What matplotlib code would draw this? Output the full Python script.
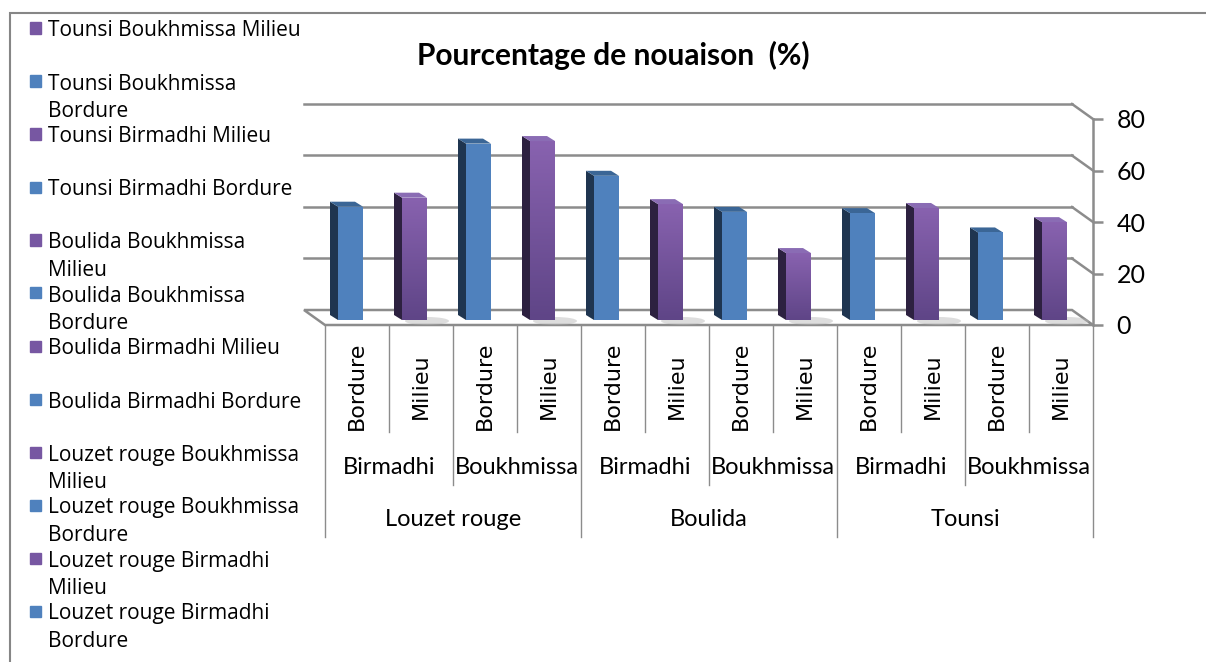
import textwrap
import numpy as np
import matplotlib
matplotlib.use("Agg")
import matplotlib.pyplot as plt
from matplotlib.patches import Polygon, Rectangle, Ellipse
from matplotlib.colors import LinearSegmentedColormap
from matplotlib import transforms

# data
varieties = ['Louzet rouge', 'Boulida', 'Tounsi']
sites = ['Birmadhi', 'Boukhmissa']
positions = ['Bordure', 'Milieu']
values = [44, 47.5, 68.5, 69.5, 56, 45, 42, 26, 41.5, 43.5, 34, 38]
yticks = [0, 20, 40, 60, 80]
title = 'Pourcentage de nouaison  (%)'

face = {'Bordure': '#4F81BD', 'Milieu': '#7757A2'}
side = {'Bordure': '#1F3550', 'Milieu': '#2D2140'}
top = {'Bordure': '#3B6696', 'Milieu': '#8A6CB4'}
grid_c = '#8c8c8c'
purple_grad = LinearSegmentedColormap.from_list('pg', ['#5F4587', '#8862AF'])

W, H = 1206, 662


def fx(px):
    return px / W


def fy(py):
    return 1 - py / H


fig = plt.figure(figsize=(W / 100, H / 100), dpi=100)
ax = fig.add_axes([fx(325), fy(325), 768 / W, 206 / H])
ax.set_xlim(-0.5, 11.5)
ax.set_ylim(0, 80)

# pixel -> data unit scale
p = ax.transData.transform([(0, 0), (1, 1)])
sx, sy = p[1] - p[0]

# back wall / floor
bx, by = -21 / sx, 15 / sy
floor = Polygon([(-0.5, 0), (11.5, 0), (11.5 + bx, by), (-0.5 + bx, by)],
                closed=True, facecolor='white', edgecolor=grid_c, lw=1.8,
                clip_on=False, zorder=1)
ax.add_patch(floor)
for v in yticks[1:]:
    ax.plot([-0.5 + bx, 11.5 + bx], [v + by, v + by], color=grid_c, lw=1.8,
            clip_on=False, zorder=1)
    ax.plot([11.5 + bx, 11.5], [v + by, v], color=grid_c, lw=1.8,
            clip_on=False, zorder=1)

# labels of the 12 bars
pos_labels = [positions[i % 2] for i in range(12)]
x = np.arange(len(values))

# bars with a small 3d look
ox, oy = -6.5 / sx, 5 / sy
w = 25 / sx
dx, dy = -8 / sx, 5 / sy
grad = np.linspace(0, 1, 64).reshape(-1, 1)
for xi, v, pl in zip(x, values, pos_labels):
    x0 = xi + ox - w / 2
    if pl == 'Milieu':
        ax.add_patch(Ellipse((x0 + w * 1.0, oy - 1 / sy), 44 / sx, 8 / sy,
                             color='#b4b4b4', alpha=0.45, lw=0, zorder=2))
    ax.add_patch(Polygon([(x0, oy), (x0, oy + v), (x0 + dx, oy + v + dy),
                          (x0 + dx, oy + dy)], closed=True, color=side[pl],
                         lw=0, zorder=3))
    ax.add_patch(Polygon([(x0, oy + v), (x0 + w, oy + v),
                          (x0 + w + dx, oy + v + dy), (x0 + dx, oy + v + dy)],
                         closed=True, color=top[pl], lw=0, zorder=3))
    bar = ax.bar(xi + ox, v, width=w, bottom=oy, color=face[pl], zorder=4)[0]
    if pl == 'Milieu':
        im = ax.imshow(grad, cmap=purple_grad, origin='lower', aspect='auto',
                       extent=[x0, x0 + w, oy, oy + v], zorder=4.5)
        im.set_clip_path(bar)
ax.set_xlim(-0.5, 11.5)
ax.set_ylim(0, 80)

# right axis
for s in ['left', 'top', 'bottom']:
    ax.spines[s].set_visible(False)
ax.spines['right'].set_color(grid_c)
ax.spines['right'].set_linewidth(1.8)
ax.yaxis.tick_right()
ax.set_yticks(yticks)
ax.tick_params(axis='y', length=7, width=1.8, color=grid_c, pad=10,
               labelsize=18)
for t in ax.get_yticklabels():
    t.set_fontfamily('Lato')
ax.set_xticks([])

# category table under the bars
tb = transforms.blended_transform_factory(ax.transData, fig.transFigure)
for xl in [-0.5, 3.5, 7.5, 11.5]:
    ax.plot([xl, xl], [fy(325), fy(537)], transform=tb, color=grid_c,
            lw=1, clip_on=False)
for xl in [1.5, 5.5, 9.5]:
    ax.plot([xl, xl], [fy(325), fy(485)], transform=tb, color=grid_c,
            lw=1, clip_on=False)
for xl in [0.5, 2.5, 4.5, 6.5, 8.5, 10.5]:
    ax.plot([xl, xl], [fy(325), fy(432)], transform=tb, color=grid_c,
            lw=1, clip_on=False)

for xi, pl in zip(x, pos_labels):
    ax.text(xi, fy(386), pl, transform=tb, rotation=90, ha='center',
            va='center', fontsize=16, family='DejaVu Sans')
for j in range(6):
    ax.text(2 * j + 0.5, fy(468), sites[j % 2], transform=tb, ha='center',
            va='center', fontsize=17, family='Lato')
for k, var in enumerate(varieties):
    ax.text(4 * k + 1.5, fy(520), var, transform=tb, ha='center',
            va='center', fontsize=17, family='Lato')

# title
fig.text(fx(613), fy(55), title, ha='center', va='center', fontsize=21.5,
         fontweight='bold', family='Lato')

# legend, drawn by hand (last series first)
entries = []
for var in varieties:
    for s in sites:
        for pl in positions:
            entries.append((f'{var} {s} {pl}', pl))
entries = entries[::-1]
for i, (lab, pl) in enumerate(entries):
    yc = 28 + 53 * i
    fig.add_artist(Rectangle((fx(30), fy(yc + 5.5)), 11 / W, 11 / H,
                             transform=fig.transFigure, color=face[pl]))
    fig.text(fx(48), fy(yc - 7.5), textwrap.fill(lab, 24), ha='left',
             va='top', fontsize=15, family='Open Sans', linespacing=1.4)

# chart border
fig.add_artist(Rectangle((fx(10), -0.2), 1.2, fy(13) + 0.2, fill=False,
                         edgecolor='#868686', lw=1.5,
                         transform=fig.transFigure))

fig.savefig('out.png', dpi=100)
